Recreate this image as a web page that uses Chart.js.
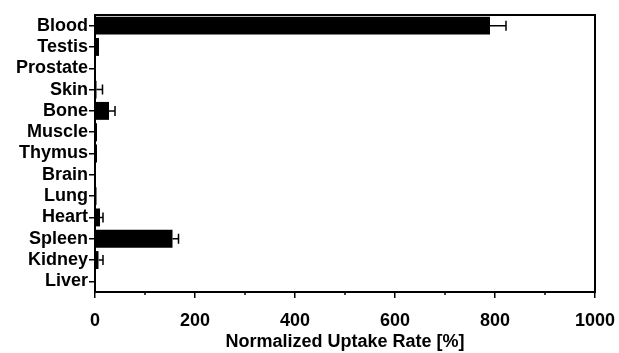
<!DOCTYPE html>
<html>
<head>
<meta charset="utf-8">
<script src="https://cdn.jsdelivr.net/npm/chart.js@4.4.1/dist/chart.umd.min.js"></script>
<style>
  html, body { margin: 0; padding: 0; background: #fff; }
  #wrap { width: 619px; height: 353px; }
</style>
</head>
<body>
<div id="wrap"><canvas id="uptakeChart"></canvas></div>
<script>
// ─── DATA ───
const organs = ['Blood', 'Testis', 'Prostate', 'Skin', 'Bone', 'Muscle', 'Thymus', 'Brain', 'Lung', 'Heart', 'Spleen', 'Kidney', 'Liver'];
const uptake = [790, 8, 1, 3, 28, 4, 4, 1, 3, 10, 155, 7, 1];
const uptakeErr = [32, 0, 0, 12, 12, 0, 0, 0, 0, 6, 12, 9, 0];
const xTicks = [0, 200, 400, 600, 800, 1000];
const xMinorTicks = [100, 300, 500, 700, 900];

const FONT = { family: '"Liberation Sans", Arial, sans-serif', size: 18, weight: 'bold' };

// ─── PLUGINS ───
const errorBars = {
    id: 'errorBars',
    afterDatasetsDraw(chart) {
        const { ctx, scales: { x, y } } = chart;
        ctx.save();
        ctx.strokeStyle = '#000';
        ctx.lineWidth = 1.5;
        uptake.forEach((v, i) => {
            if (!uptakeErr[i]) return;
            const yc = y.getPixelForValue(i);
            const x0 = x.getPixelForValue(v);
            const x1 = x.getPixelForValue(v + uptakeErr[i]);
            ctx.beginPath();
            ctx.moveTo(x0, yc);
            ctx.lineTo(x1, yc);
            ctx.moveTo(x1, yc - 5);
            ctx.lineTo(x1, yc + 5);
            ctx.stroke();
        });
        ctx.restore();
    }
};

const frame = {
    id: 'frame',
    afterDraw(chart) {
        const { ctx, chartArea: a, scales: { x } } = chart;
        ctx.save();
        ctx.strokeStyle = '#000';
        ctx.lineWidth = 2;
        ctx.strokeRect(a.left, a.top, a.right - a.left, a.bottom - a.top);
        // minor ticks
        ctx.lineWidth = 1.5;
        xMinorTicks.forEach(v => {
            const px = x.getPixelForValue(v);
            ctx.beginPath();
            ctx.moveTo(px, a.bottom);
            ctx.lineTo(px, a.bottom + 3);
            ctx.stroke();
        });
        ctx.restore();
    }
};

// ─── CHART ───
new Chart(document.getElementById('uptakeChart'), {
    type: 'bar',
    data: {
        labels: organs,
        datasets: [{
            data: uptake,
            backgroundColor: '#000',
            borderWidth: 0,
            barPercentage: 0.84,
            categoryPercentage: 1,
        }]
    },
    options: {
        indexAxis: 'y',
        responsive: true,
        maintainAspectRatio: false,
        animation: false,
        layout: { padding: { top: 15, right: 24, left: 0, bottom: 0 } },
        plugins: { legend: { display: false }, tooltip: { enabled: false } },
        scales: {
            x: {
                min: 0,
                max: 1000,
                afterBuildTicks: s => { s.ticks = xTicks.map(v => ({ value: v })); },
                afterFit: s => { s.height = 61; s.paddingRight = 0; s.paddingLeft = 0; },
                border: { color: '#000', width: 2 },
                grid: { drawOnChartArea: false, color: '#000', lineWidth: 1.5, tickLength: 6 },
                ticks: { color: '#000', font: FONT, padding: 12, maxRotation: 0, callback: v => String(v) },
                title: { display: true, text: 'Normalized Uptake Rate [%]', color: '#000', font: FONT, padding: { top: 0, bottom: 0 } }
            },
            y: {
                afterFit: s => { s.width = 95; },
                border: { color: '#000', width: 2 },
                grid: { drawOnChartArea: false, offset: false, color: '#000', lineWidth: 1.5, tickLength: 6 },
                ticks: { color: '#000', font: FONT, padding: 1, autoSkip: false }
            }
        }
    },
    plugins: [errorBars, frame]
});
</script>
</body>
</html>
